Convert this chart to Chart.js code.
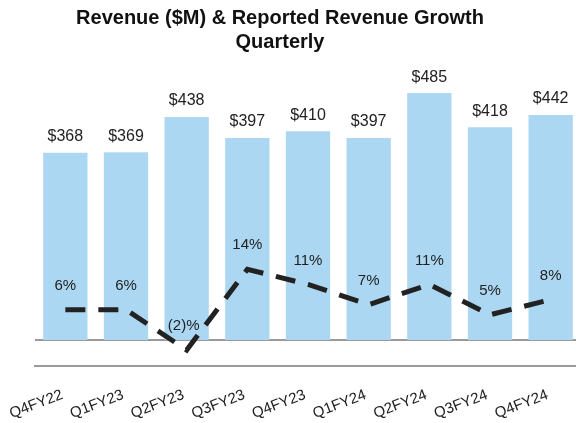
<!DOCTYPE html>
<html>
<head>
<meta charset="utf-8">
<script src="https://cdn.jsdelivr.net/npm/chart.js@4.4.1/dist/chart.umd.min.js"></script>
<style>
  html, body { margin: 0; padding: 0; background: #fff; overflow: hidden; }
  #wrap { width: 581px; height: 423px; position: relative; }
</style>
</head>
<body>
<div id="wrap"><canvas id="myChart"></canvas></div>
<script>
// chart data
let quarters = ['Q4FY22', 'Q1FY23', 'Q2FY23', 'Q3FY23', 'Q4FY23', 'Q1FY24', 'Q2FY24', 'Q3FY24', 'Q4FY24'];
let revenue = [368, 369, 438, 397, 410, 397, 485, 418, 442];
let growth = [6, 6, -2, 14, 11, 7, 11, 5, 8];

let textColor = '#222222';
let fontFamily = '"Liberation Sans", Arial, sans-serif';

// draws the value labels above bars and line points
let valueLabels = {
  id: 'valueLabels',
  afterDatasetsDraw(chart) {
    let ctx = chart.ctx;
    ctx.save();
    ctx.fillStyle = textColor;
    ctx.textAlign = 'center';
    ctx.textBaseline = 'middle';
    chart.data.datasets.forEach((ds, i) => {
      let meta = chart.getDatasetMeta(i);
      meta.data.forEach((el, j) => {
        let v = ds.data[j];
        if (ds.type === 'bar') {
          ctx.font = '16px ' + fontFamily;
          ctx.fillText('$' + v, el.x, el.y - 16);
        } else {
          ctx.font = '15px ' + fontFamily;
          let txt = v < 0 ? '(' + Math.abs(v) + ')%' : v + '%';
          ctx.fillText(txt, el.x - (v < 0 ? 3 : 0), el.y - 24);
        }
      });
    });
    ctx.restore();
  }
};

let ctx = document.getElementById('myChart');
new Chart(ctx, {
  data: {
    labels: quarters,
    datasets: [
      {
        type: 'line',
        data: growth,
        yAxisID: 'yGrowth',
        borderColor: '#222222',
        borderWidth: 5,
        borderDash: [20, 13],
        borderCapStyle: 'butt',
        pointRadius: 0,
        tension: 0,
        order: 0
      },
      {
        type: 'bar',
        data: revenue,
        yAxisID: 'yRev',
        backgroundColor: '#acd7f2',
        categoryPercentage: 0.73,
        barPercentage: 1,
        order: 1
      }
    ]
  },
  options: {
    responsive: true,
    maintainAspectRatio: false,
    animation: false,
    layout: { padding: { left: -21, right: 0, top: 0, bottom: 0 } },
    plugins: {
      legend: { display: false },
      tooltip: { enabled: false },
      title: {
        display: true,
        text: ['Revenue ($M) & Reported Revenue Growth', 'Quarterly'],
        color: '#111111',
        font: { family: fontFamily, size: 20, weight: 'bold', lineHeight: 1.2 },
        padding: { top: 6, bottom: 6 }
      }
    },
    scales: {
      x: {
        grid: { display: false },
        border: { display: true, color: '#9a9a9a', width: 2 },
        ticks: {
          color: textColor,
          font: { family: fontFamily, size: 15 },
          minRotation: 21,
          maxRotation: 21,
          padding: 12,
          labelOffset: -3
        },
        afterFit: (scale) => {
          scale.height = 57;
          scale.paddingLeft = 0;
          scale.paddingRight = 0;
        }
      },
      yRev: {
        position: 'left',
        min: -51,
        max: 550,
        grid: { display: false },
        border: { display: false },
        ticks: { display: false },
        afterFit: (scale) => { scale.width = 56; }
      },
      yGrowth: {
        position: 'right',
        min: -5.15,
        max: 55.45,
        border: { display: false },
        ticks: { display: false },
        grid: { color: '#9a9a9a', lineWidth: 2, drawTicks: false },
        afterBuildTicks: (scale) => { scale.ticks = [{ value: 0 }]; },
        afterFit: (scale) => { scale.width = 0; }
      }
    }
  },
  plugins: [valueLabels]
});
</script>
</body>
</html>
